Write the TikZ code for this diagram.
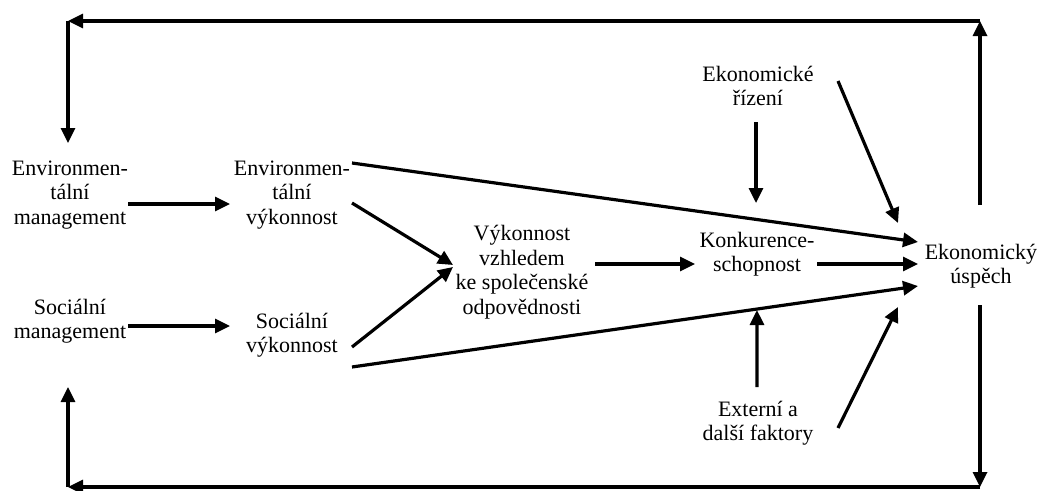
\documentclass[tikz,border=0pt]{standalone}
\usepackage{fontspec}
\setmainfont{Liberation Serif}
\usetikzlibrary{arrows.meta,calc}
\begin{document}
\begin{tikzpicture}[x=1pt,y=-1pt,
  lbl/.style={inner sep=0pt,align=center,font=\fontsize{22}{24.5}\selectfont},
  conn/.style={line width=3.2pt},
  arr/.style={conn,-{Triangle[length=15pt,width=14pt]}}]
\useasboundingbox (0,0) rectangle (1038,490);
\node[lbl] (em) at (70,195) {Environmen-\\tální\\management};
\node[lbl] (sm) at (70,321) {Sociální\\management};
\node[lbl] (ep) at (292,195) {Environmen-\\tální\\výkonnost};
\node[lbl] (sp) at (292,335) {Sociální\\výkonnost};
\node[lbl] (v) at (522,272) {Výkonnost\\vzhledem\\ke společenské\\odpovědnosti};
\node[lbl] (k) at (757,254) {Konkurence-\\schopnost};
\node[lbl] (e) at (981,266) {Ekonomický\\úspěch};
\node[lbl] (er) at (758,86) {Ekonomické\\řízení};
\node[lbl] (ext) at (758,423) {Externí a\\další faktory};
\coordinate (tl) at (68,21);
\coordinate (tr) at (980,21);
\coordinate (bl) at (68,487);
\coordinate (br) at (980,487);
% main flows
\draw[arr] ($(em)+(58,9)$) -- ($(ep)+(-62,9)$);
\draw[arr] ($(sm)+(58,5)$) -- ($(sp)+(-62,-9)$);
\draw[arr] ($(ep)+(60,-32)$) -- ($(e)+(-63,-24)$);
\draw[arr] ($(ep)+(60,8)$) -- ($(v)+(-69,-7)$);
\draw[arr] ($(sp)+(60,12)$) -- ($(v)+(-69,-5)$);
\draw[arr] ($(sp)+(60,32)$) -- coordinate[pos=0.7155] (m) ($(e)+(-63,20)$);
\draw[arr] ($(v)+(73,-8)$) -- ($(k)+(-62,10)$);
\draw[arr] ($(k)+(60,10)$) -- ($(e)+(-63,-2)$);
\draw[arr] ($(er)+(-2,36)$) -- ($(k)+(-1,-51)$);
\draw[arr] ($(er)+(80,-5)$) -- ($(e)+(-83,-43)$);
\draw[arr,shorten >=1pt] ($(ext)+(-1,-36)$) -- (m);
\draw[arr] ($(ext)+(80,5)$) -- ($(e)+(-83,41)$);
% feedback loops
\draw[arr] ($(e)+(-1,-61)$) -- (tr);
\draw[arr] (tr) -- (tl);
\draw[arr] (tl) -- ($(em)+(-2,-52)$);
\draw[arr] ($(e)+(-1,39)$) -- (br);
\draw[arr] (br) -- (bl);
\draw[arr] (bl) -- ($(sm)+(-2,66)$);
\end{tikzpicture}
\end{document}
